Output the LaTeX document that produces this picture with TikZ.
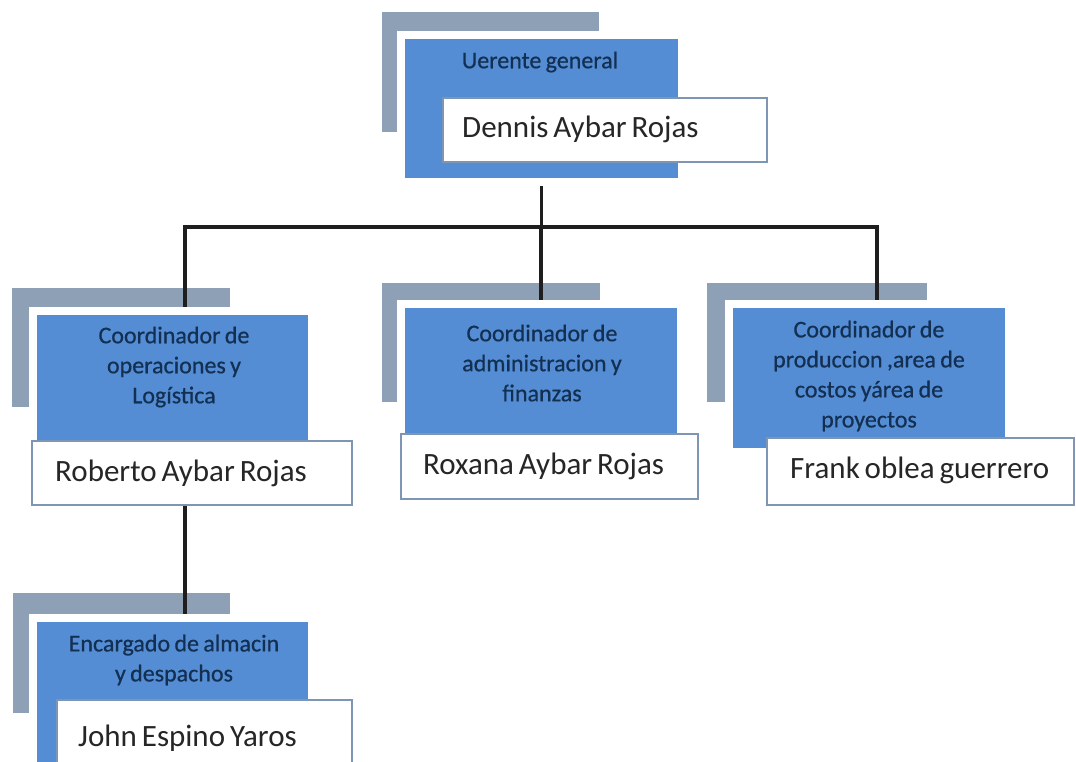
\documentclass[tikz,border=0pt]{standalone}
\usepackage{fontspec}
\setmainfont{Carlito}
\newfontfamily\namefont[WordSpace=0.7]{Carlito}
\newfontfamily\headfont[WordSpace=0.8,FakeBold=0.6]{Carlito}
\usetikzlibrary{calc}
\definecolor{cardblue}{HTML}{548DD4}
\definecolor{shadegray}{HTML}{8DA0B6}
\definecolor{headnavy}{HTML}{132F52}
\definecolor{nametext}{HTML}{262626}
\definecolor{nameedge}{HTML}{7E96B4}
\definecolor{wirecol}{HTML}{1E1E1E}
\pgfdeclarelayer{shade}
\pgfdeclarelayer{wires}
\pgfsetlayers{shade,wires,main}
\tikzset{
  card/.style={fill=cardblue, draw=white, line width=8pt, inner sep=0pt, outer sep=0pt},
  namebox/.style={fill=white, draw=nameedge, line width=1.2pt, anchor=north west,
    inner sep=0pt, outer sep=0pt},
  nametag/.style={anchor=west, inner sep=0pt, text=nametext,
    font=\namefont\fontsize{31}{36}\selectfont},
  heading/.style={align=center, text=headnavy, inner sep=0pt,
    font=\headfont\fontsize{24}{30}\selectfont},
  backing/.style={fill=shadegray},
  wire/.style={draw=wirecol, line width=3.5pt}
}
\begin{document}
\begin{tikzpicture}[x=1pt,y=-1pt]
\useasboundingbox (0,0) rectangle (1076,762);
\clip (0,0) rectangle (1076,762);

% blue cards (white rim drawn by the border line)
\node[card, minimum width=281pt, minimum height=147pt] (bg) at (541.5,108.5) {};
\node[card, minimum width=279pt, minimum height=138pt] (b1) at (172.5,380) {};
\node[card, minimum width=280pt, minimum height=140pt] (b2) at (541,374) {};
\node[card, minimum width=280pt, minimum height=148pt] (b3) at (869,378) {};
\node[card, minimum width=279pt, minimum height=161pt] (b4) at (172.5,698.5) {};

% titles inside the cards
\node[heading] (hg) at (540,62) {Uerente general};
\node[heading] (h1) at (174,367) {Coordinador de\\operaciones y\\Logística};
\node[heading] (h2) at (542,363) {Coordinador de\\administracion y\\finanzas};
\node[heading] (h3) at (869,376) {Coordinador de\\produccion ,area de\\costos yárea de\\proyectos};
\node[heading] (h4) at (174,660) {Encargado de almacin\\y despachos};

% name boxes and their names
\node[namebox, minimum width=324pt, minimum height=64pt] (nd) at (443,98) {};
\node[namebox, minimum width=320pt, minimum height=64pt] (nr) at (32,441) {};
\node[namebox, minimum width=297pt, minimum height=65pt] (nx) at (401,434) {};
\node[namebox, minimum width=307pt, minimum height=67pt] (nf) at (767,438) {};
\node[namebox, minimum width=295pt, minimum height=84pt] (nj) at (57,700) {};
\node[nametag] (td) at ([xshift=19pt,yshift=1pt]nd.west) {Dennis Aybar Rojas};
\node[nametag] (tr) at ([xshift=23pt]nr.west) {Roberto Aybar Rojas};
\node[nametag] (tx) at ([xshift=22pt]nx.west) {Roxana Aybar Rojas};
\node[nametag] (tf) at ([xshift=23pt,yshift=1pt]nf.west) {Frank oblea guerrero};
\node[nametag] (tj) at ([xshift=21pt,yshift=4pt]nj.west) {John Espino Yaros};

% connectors
\coordinate (busL) at (185,227);
\coordinate (busR) at (877,227);
\begin{pgfonlayer}{wires}
  \draw[wire] (bg.south) |- (busL) -- (busL |- b1.north);
  \draw[wire] (bg.south) |- (busR) -- (busR |- b3.north);
  \draw[wire] (b2.north) -- (b2.north |- busL);
  \draw[wire] (nr.south -| busL) -- (busL |- b4.north);
\end{pgfonlayer}

% grey backing plates
\begin{pgfonlayer}{shade}
  \fill[backing] (382,12) rectangle (599,132);
  \fill[backing] (12,288) rectangle (230,407);
  \fill[backing] (382,283) rectangle (600,402);
  \fill[backing] (707,283) rectangle (927,402);
  \fill[backing] (13,593) rectangle (230,713);
\end{pgfonlayer}
\end{tikzpicture}
\end{document}
